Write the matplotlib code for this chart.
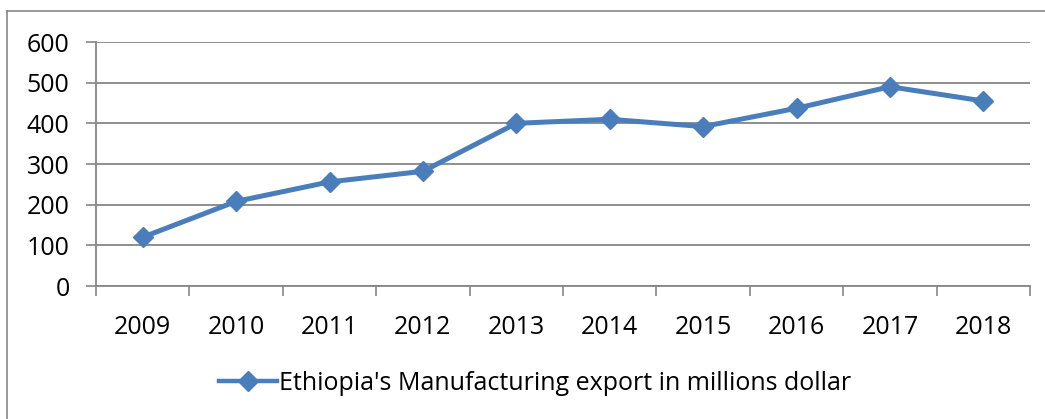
import numpy as np
import matplotlib.pyplot as plt
from matplotlib.lines import Line2D

plt.rcParams['font.family'] = ['Open Sans', 'DejaVu Sans']

years = ['2009', '2010', '2011', '2012', '2013', '2014', '2015', '2016', '2017', '2018']
exports = [120, 208, 256, 282, 400, 410, 392, 437, 490, 455]
series_name = "Ethiopia's Manufacturing export in millions dollar"

blue = '#4A7EBB'
grey = '#868686'

fig = plt.figure(figsize=(10.45, 4.19), dpi=100)
ax = fig.add_axes([96 / 1045, 1 - 286 / 419, (1030 - 96) / 1045, (286 - 42) / 419])

x = np.arange(len(years))
ax.plot(x, exports, color=blue, lw=3.6, marker='D', markersize=10,
        markerfacecolor=blue, markeredgecolor=blue, label=series_name)

ax.set_xlim(-0.5, len(years) - 0.5)
ax.set_ylim(0, 600)
ax.set_yticks(np.arange(0, 601, 100))
ax.yaxis.grid(True, color=grey, lw=1.3)
ax.set_axisbelow(True)

ax.set_xticks(x)
ax.set_xticklabels(years)
ax.set_xticks(np.arange(-0.5, len(years)), minor=True)
ax.tick_params(axis='x', which='major', length=0, pad=21, labelsize=18)
ax.tick_params(axis='x', which='minor', length=7, width=1.2, color=grey, direction='out')
ax.tick_params(axis='y', length=7, width=1.2, color=grey, pad=12, labelsize=18)

for side in ['top', 'right']:
    ax.spines[side].set_visible(False)
for side in ['left', 'bottom']:
    ax.spines[side].set_color(grey)
    ax.spines[side].set_linewidth(1.3)

# outer chart frame (left and top edges)
fig.add_artist(Line2D([7 / 1045, 7 / 1045], [0, 1 - 11 / 419], color=grey, lw=1.2))
fig.add_artist(Line2D([7 / 1045, 1], [1 - 11 / 419, 1 - 11 / 419], color=grey, lw=1.2))

leg = fig.legend(loc='center', bbox_to_anchor=(0.512, 1 - 383 / 419), frameon=False,
                 fontsize=18, handlelength=2.3, handletextpad=0.08)
leg.legend_handles[0].set_linewidth(3.2)

fig.savefig('out.png', dpi=100)
